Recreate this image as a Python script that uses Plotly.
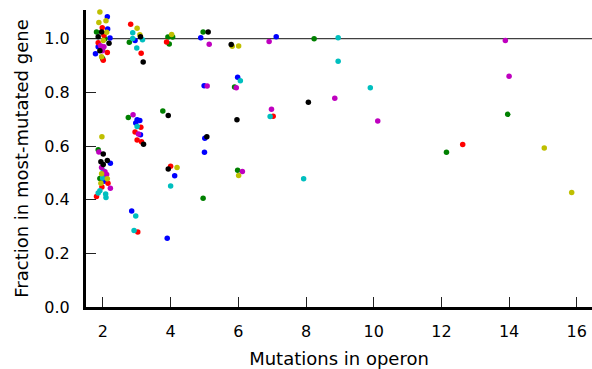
import plotly.graph_objects as go

# Data (x = mutations in operon, jittered; y = fraction in most-mutated gene)
blue_x = [2.13, 2.14, 2.21, 1.86, 1.78, 2.22, 2.03, 2.95, 3.01, 3.09, 2.97, 3.11, 2.85, 4.12, 3.90, 4.89, 4.99, 5.01, 5.00, 5.98, 7.12]
blue_y = [1.082, 1.036, 1.003, 0.970, 0.944, 0.536, 0.469, 0.993, 0.698, 0.695, 0.686, 0.642, 0.358, 0.489, 0.256, 1.004, 0.825, 0.629, 0.577, 0.856, 1.007]

green_x = [1.81, 2.06, 1.99, 1.99, 1.86, 1.91, 2.78, 2.75, 3.92, 4.06, 3.96, 3.77, 4.96, 4.96, 5.89, 5.98, 8.24, 12.15, 13.96]
green_y = [1.025, 1.000, 0.958, 0.926, 0.586, 0.479, 0.987, 0.706, 1.006, 1.006, 0.980, 0.731, 1.025, 0.405, 0.820, 0.510, 1.000, 0.577, 0.718]

red_x = [1.98, 2.03, 1.86, 2.13, 2.01, 2.15, 1.97, 1.81, 2.82, 3.13, 3.12, 2.95, 3.01, 3.14, 3.03, 3.88, 4.00, 7.03, 12.63]
red_y = [1.041, 1.013, 0.985, 0.949, 0.920, 0.461, 0.447, 0.412, 1.054, 0.946, 0.670, 0.652, 0.622, 0.616, 0.280, 0.988, 0.525, 0.711, 0.606]

cyan_x = [2.01, 2.01, 1.99, 1.91, 1.86, 2.08, 2.09, 2.88, 2.88, 3.17, 3.00, 3.01, 2.97, 2.92, 4.00, 6.06, 6.94, 7.93, 8.95, 8.95, 9.90]
cyan_y = [0.508, 0.487, 0.481, 0.433, 0.425, 0.421, 0.408, 1.022, 1.001, 0.996, 0.965, 0.673, 0.339, 0.285, 0.451, 0.843, 0.710, 0.478, 1.004, 0.916, 0.817]

magenta_x = [1.93, 2.03, 1.98, 1.88, 1.96, 2.06, 2.11, 2.22, 2.89, 3.05, 5.14, 5.08, 5.94, 6.12, 6.91, 6.98, 8.85, 10.12, 13.89, 14.00]
magenta_y = [0.974, 0.970, 0.955, 0.578, 0.520, 0.504, 0.494, 0.443, 0.717, 0.645, 0.979, 0.824, 0.817, 0.505, 0.990, 0.737, 0.778, 0.693, 0.993, 0.860]

yellow_x = [1.91, 1.88, 2.09, 2.11, 2.01, 1.96, 1.97, 1.96, 2.13, 1.94, 3.01, 3.09, 4.03, 4.19, 5.82, 6.01, 6.01, 15.04, 15.85]
yellow_y = [1.100, 1.060, 1.067, 1.024, 0.993, 0.933, 0.635, 0.497, 0.478, 0.461, 1.039, 1.015, 1.016, 0.520, 0.972, 0.973, 0.490, 0.593, 0.427]

black_x = [1.96, 1.86, 2.18, 1.91, 2.01, 2.13, 1.94, 2.01, 3.11, 3.19, 3.20, 3.93, 3.93, 5.11, 5.07, 5.79, 5.96, 8.07]
black_y = [1.025, 1.007, 0.983, 0.955, 0.570, 0.546, 0.541, 0.531, 1.007, 0.913, 0.607, 0.714, 0.514, 1.025, 0.635, 0.978, 0.698, 0.763]

x_ticks = [2, 4, 6, 8, 10, 12, 14, 16]
y_ticks = [0.0, 0.2, 0.4, 0.6, 0.8, 1.0]
y_tick_labels = ["0.0", "0.2", "0.4", "0.6", "0.8", "1.0"]

series = [
    (blue_x, blue_y, "#0000ff"),
    (green_x, green_y, "#008000"),
    (red_x, red_y, "#ff0000"),
    (cyan_x, cyan_y, "#00bfbf"),
    (magenta_x, magenta_y, "#bf00bf"),
    (yellow_x, yellow_y, "#bfbf00"),
    (black_x, black_y, "#000000"),
]

fig = go.Figure()
for xs, ys, col in series:
    fig.add_trace(go.Scatter(
        x=xs, y=ys, mode="markers",
        marker=dict(color=col, size=5.5, line=dict(width=0)),
        showlegend=False, cliponaxis=False,
    ))

fig.add_shape(type="line", xref="paper", yref="y", x0=0, x1=1, y0=1.0, y1=1.0,
              line=dict(color="#404040", width=1.3), layer="below")

font_family = "DejaVu Sans"
fig.update_layout(
    width=592, height=369,
    margin=dict(l=86, r=0, t=10, b=62),
    paper_bgcolor="white", plot_bgcolor="white",
    font=dict(family=font_family, size=16, color="black"),
)
fig.update_xaxes(
    range=[1.5, 16.45], tickvals=x_ticks, ticktext=[str(v) for v in x_ticks],
    showgrid=False, zeroline=False,
    showline=True, linecolor="black", linewidth=3,
    ticks="inside", ticklen=10, tickwidth=1.3, tickcolor="#222222",
    tickfont=dict(size=16), ticklabelstandoff=8,
    title=dict(text="Mutations in operon", font=dict(size=18), standoff=14),
)
fig.update_yaxes(
    range=[0, 1.107], tickvals=y_ticks, ticktext=y_tick_labels,
    showgrid=False, zeroline=False,
    showline=True, linecolor="black", linewidth=3,
    ticks="inside", ticklen=10, tickwidth=1.3, tickcolor="#222222",
    tickfont=dict(size=16), ticklabelstandoff=10,
    title=dict(text="Fraction in most-mutated gene", font=dict(size=18), standoff=12),
)

fig.write_html("out.html")
